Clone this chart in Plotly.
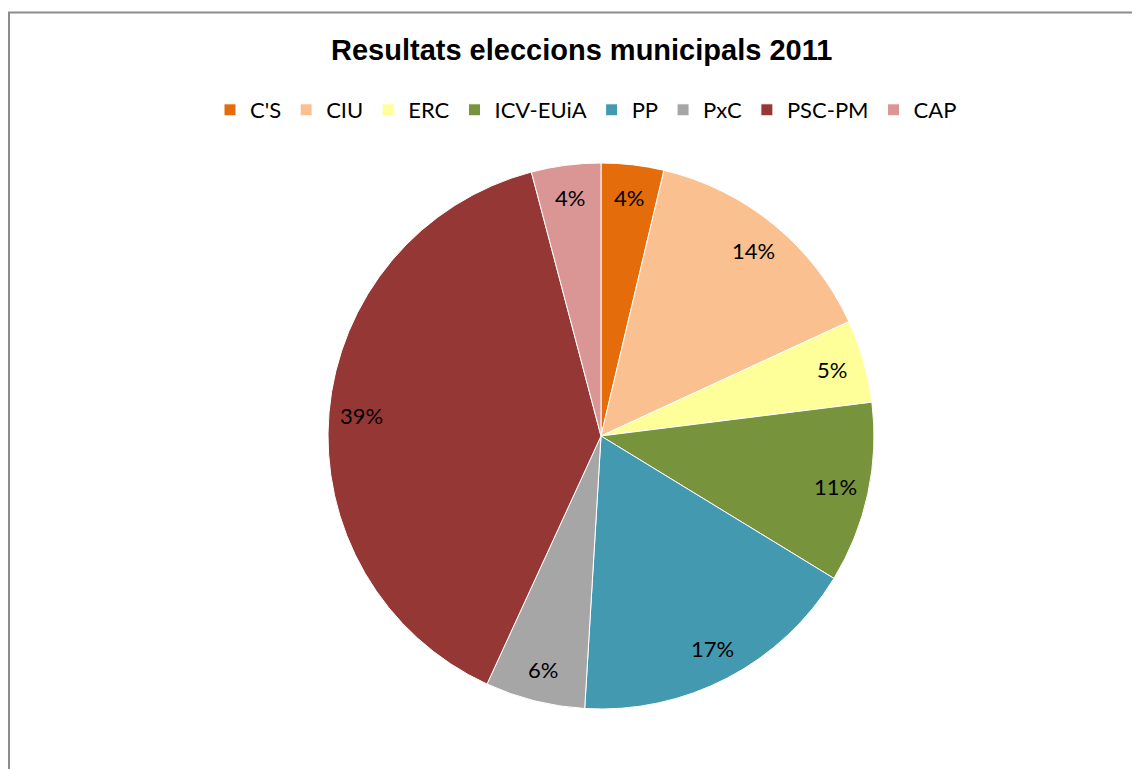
import math
import plotly.graph_objects as go

parties = ["C'S", "CIU", "ERC", "ICV-EUiA", "PP", "PxC", "PSC-PM", "CAP"]
shares = [3.7, 14.4, 4.9, 10.7, 17.2, 5.9, 39.0, 4.1]
colors = ["#E46C0A", "#FAC090", "#FFFF99", "#77933C", "#4399B0", "#A6A6A6", "#953735", "#D99694"]
title_text = "Resultats eleccions municipals 2011"

W, H = 1140, 769
OFF = 8  # default page margin of the html body
cx, cy, R = 601 - OFF, 436 - OFF, 273
label_r = 0.88 * R

fig = go.Figure()
fig.add_trace(go.Pie(
    labels=parties, values=shares, sort=False, direction="clockwise", rotation=0,
    marker=dict(colors=colors, line=dict(color="white", width=1)),
    textinfo="none", hoverinfo="label+percent",
    domain=dict(x=[(cx - R) / W, (cx + R) / W], y=[1 - (cy + R) / H, 1 - (cy - R) / H]),
))

total = sum(shares)
annotations = []
cum = 0.0
for p, v in zip(parties, shares):
    mid = (cum + v / 2) / total * 2 * math.pi
    cum += v
    px = cx + label_r * math.sin(mid)
    py = cy - label_r * math.cos(mid)
    annotations.append(dict(
        x=px / W, y=1 - py / H, xref="paper", yref="paper",
        text=f"{round(v / total * 100)}%", showarrow=False,
        font=dict(family="Lato", size=22, color="#000000"),
        xanchor="center", yanchor="middle",
    ))

annotations.append(dict(
    x=(581 - OFF) / W, y=1 - (50 - OFF) / H, xref="paper", yref="paper", text=f"<b>{title_text}</b>",
    showarrow=False, font=dict(family="Liberation Sans", size=29, color="#000000"),
    xanchor="center", yanchor="middle",
))

fig.update_layout(
    width=W, height=H,
    margin=dict(l=0, r=0, t=0, b=0),
    paper_bgcolor="white", plot_bgcolor="white",
    annotations=annotations,
    showlegend=True,
    legend=dict(orientation="h", x=(586 - OFF) / W, xanchor="center", y=1 - (110 - OFF) / H, yanchor="middle",
                font=dict(family="Lato", size=22, color="#000000"),
                itemwidth=30, traceorder="normal", tracegroupgap=0),
    shapes=[dict(type="rect", xref="paper", yref="paper",
                 x0=(9 - OFF) / W, x1=1.2, y0=-0.2, y1=1 - (12.5 - OFF) / H,
                 line=dict(color="#8C8C8C", width=2), fillcolor="rgba(0,0,0,0)", layer="below")],
)

fig.write_html("out.html")
